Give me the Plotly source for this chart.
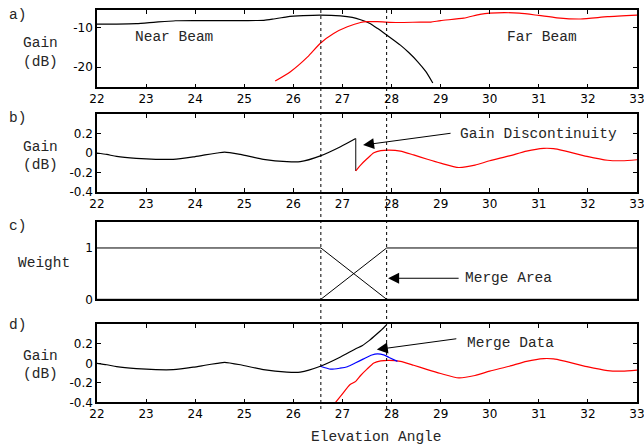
import plotly.graph_objects as go

# ---------------- data ----------------
x_ticks = list(range(22, 34))

merge_start = 26.56
merge_end = 27.9

# panel a: beam gains (dB)
near_a_x = [22.0, 22.4, 22.8, 23.2, 23.6, 24.0, 24.5, 25.0, 25.4, 25.6, 25.87, 26.2, 26.55,
            26.96, 27.2, 27.37, 27.55, 27.71, 27.9, 28.18, 28.35, 28.53, 28.7, 28.84]
near_a_y = [-9.0, -9.0, -8.9, -8.5, -8.15, -8.1, -8.1, -8.1, -8.05, -7.7, -7.15, -6.85, -6.7,
            -6.9, -7.3, -7.9, -8.8, -10.1, -11.8, -14.4, -16.3, -18.6, -21.2, -24.1]
far_a_x = [25.63, 25.94, 26.29, 26.55, 26.82, 27.1, 27.37, 27.5, 27.71, 28.12, 28.59, 28.8,
           29.0, 29.47, 29.8, 30.0, 30.6, 31.0, 31.37, 31.85, 32.4, 33.0]
far_a_y = [-23.6, -21.2, -17.4, -13.9, -11.4, -9.7, -8.6, -8.4, -8.4, -8.6, -8.5, -8.5,
           -8.1, -7.5, -6.5, -6.2, -6.2, -6.8, -7.4, -7.7, -7.1, -6.7]

# panels b/d: residual gain (dB)
near_x = [22.0, 22.2, 22.4, 22.8, 23.2, 23.55, 23.96, 24.2, 24.45, 24.6, 24.92, 25.39,
          25.87, 26.14, 26.55, 26.96, 27.27]
near_y = [0.0, -0.015, -0.035, -0.055, -0.065, -0.065, -0.04, -0.02, 0.0, 0.01, -0.015, -0.065,
          -0.09, -0.09, -0.03, 0.065, 0.15]
near_drop_y = -0.185
near_ext_x = [27.4, 27.55, 27.7, 27.8, 27.9]
near_ext_y = [0.18, 0.235, 0.3, 0.345, 0.395]

far_x = [26.86, 27.02, 27.15, 27.27, 27.37, 27.5, 27.64, 27.78, 27.95, 28.18, 28.45, 28.73,
         29.0, 29.37, 29.7, 30.0, 30.4, 30.75, 31.1, 31.3, 31.5, 31.98, 32.4, 32.7, 33.0]
far_y = [-0.4, -0.3, -0.22, -0.185, -0.125, -0.06, 0.003, 0.025, 0.03, 0.02, -0.02, -0.065,
         -0.105, -0.15, -0.125, -0.08, -0.03, 0.02, 0.048, 0.045, 0.025, -0.035, -0.075, -0.08, -0.07]

merged_x = [26.55, 26.76, 26.95, 27.1, 27.27, 27.43, 27.6, 27.71, 27.84, 27.95, 28.12]
merged_y = [-0.03, -0.06, -0.05, -0.035, 0.005, 0.045, 0.085, 0.097, 0.087, 0.06, 0.02]

# panel c: weights
weight_x = [22, merge_start, merge_end, 33]
near_w = [1, 1, 0, 0]
far_w = [0, 0, 1, 1]

# ---------------- layout helpers ----------------
W, H = 644, 445
def px(x):
    return x / W
def py(y):
    return 1 - y / H

X0, X1 = 97, 637
dom = {  # top, bottom in pixels
    'a': (10, 87.3),
    'b': (114.3, 191.7),
    'c': (222.3, 299.3),
    'd': (324.3, 402.3),
}

mono = 'Liberation Mono, Courier New, monospace'
sans = 'DejaVu Sans, Arial, sans-serif'
txtcol = '#262626'

BLACK = 'black'
RED = '#ff0000'
BLUE = '#0000ff'
LW = 1.2
SPL = dict(shape='spline', smoothing=0.6)

fig = go.Figure()

def line(x, y, color, xa, ya, width=LW, smooth=True):
    ln = dict(color=color, width=width)
    if smooth:
        ln.update(SPL)
    fig.add_trace(go.Scatter(x=x, y=y, mode='lines', line=ln, xaxis=xa, yaxis=ya, hoverinfo='skip'))

# panel a
line(near_a_x, near_a_y, BLACK, 'x', 'y')
line(far_a_x, far_a_y, RED, 'x', 'y')
# panel b
line(near_x, near_y, BLACK, 'x2', 'y2')
line([near_x[-1], near_x[-1]], [near_y[-1], near_drop_y], '#333333', 'x2', 'y2', smooth=False)
fb = [(x, y) for x, y in zip(far_x, far_y) if x >= near_x[-1]]
line([p[0] for p in fb], [p[1] for p in fb], RED, 'x2', 'y2')
# panel c
line(weight_x, near_w, BLACK, 'x3', 'y3', width=1, smooth=False)
line(weight_x, far_w, BLACK, 'x3', 'y3', width=1, smooth=False)
# panel d
line(far_x, far_y, RED, 'x4', 'y4')
line(near_x + near_ext_x, near_y + near_ext_y, BLACK, 'x4', 'y4')
line(merged_x, merged_y, BLUE, 'x4', 'y4')

def xaxis(anchor, labels=True, ticks=True):
    return dict(range=[22, 33], tickvals=x_ticks, ticks='inside' if ticks else '', ticklen=4, tickwidth=1,
                tickcolor='black', showline=True, linewidth=1.5, linecolor='black',
                mirror='ticks' if ticks else True, showgrid=False, zeroline=False,
                showticklabels=labels, tickfont=dict(family=sans, size=12, color='black'),
                ticklabeloverflow='allow',
                domain=[px(X0), px(X1)], anchor=anchor, automargin=False)

def yaxis(anchor, key, rng, vals, texts, ticks=True):
    t, b = dom[key]
    return dict(range=rng, tickvals=vals, ticktext=texts, ticks='inside' if ticks else '', ticklen=4,
                tickwidth=1, tickcolor='black', showline=True, linewidth=1.5, linecolor='black',
                mirror='ticks' if ticks else True, showgrid=False, zeroline=False,
                tickfont=dict(family=sans, size=12, color='black'),
                domain=[py(b), py(t)], anchor=anchor, automargin=False)

g_vals = [-0.4, -0.2, 0, 0.2]
g_text = ['-0.4', '-0.2', '0', '0.2']

fig.update_layout(
    width=W, height=H,
    margin=dict(l=0, r=0, t=0, b=0),
    paper_bgcolor='white', plot_bgcolor='white',
    showlegend=False,
    xaxis=xaxis('y'),
    xaxis2=xaxis('y2'),
    xaxis3=xaxis('y3', labels=False, ticks=False),
    xaxis4=xaxis('y4'),
    yaxis=yaxis('x', 'a', [-25.2, -5.4], [-20, -10], ['-20', '-10']),
    yaxis2=yaxis('x2', 'b', [-0.4, 0.4], g_vals, g_text),
    yaxis3=yaxis('x3', 'c', [0, 1.5], [0, 1], ['0', '1'], ticks=False),
    yaxis4=yaxis('x4', 'd', [-0.4, 0.4], g_vals, g_text),
)

# dotted merge boundaries across all panels
for xv in (merge_start, merge_end):
    fig.add_shape(type='line', xref='x', yref='paper', x0=xv, x1=xv, y0=py(409), y1=py(10),
                  line=dict(color='black', width=1, dash='dot'))

ann = []
def ptext(x, y, s, xanchor='left', size=14.5):
    ann.append(dict(xref='paper', yref='paper', x=px(x), y=py(y), text=s, showarrow=False,
                    xanchor=xanchor, yanchor='middle', font=dict(family=mono, size=size, color=txtcol)))

# panel letters
ptext(7, 15, 'a)')
ptext(7, 118, 'b)')
ptext(7, 226, 'c)')
ptext(7, 325, 'd)')
# y titles
for (yg, yd) in ((43, 62), (147, 164.5), (356, 373.5)):
    ptext(40, yg, 'Gain', 'center')
    ptext(40, yd, '(dB)', 'center')
ptext(44, 263, 'Weight', 'center')
# x title
ptext(376, 437, 'Elevation Angle', 'center')

# in-plot labels
ann.append(dict(xref='x', yref='y', x=23.57, y=-12.2, text='Near Beam', showarrow=False,
                font=dict(family=mono, size=14.5, color=txtcol)))
ann.append(dict(xref='x', yref='y', x=31.07, y=-12.2, text='Far Beam', showarrow=False,
                font=dict(family=mono, size=14.5, color=txtcol)))
ann.append(dict(xref='x2', yref='y2', x=29.35, y=0.195, text='Gain Discontinuity', showarrow=False,
                xanchor='left', font=dict(family=mono, size=14.5, color=txtcol)))
ann.append(dict(xref='x3', yref='y3', x=29.46, y=0.41, text='Merge Area', showarrow=False,
                xanchor='left', font=dict(family=mono, size=14.5, color=txtcol)))
ann.append(dict(xref='x4', yref='y4', x=29.5, y=0.213, text='Merge Data', showarrow=False,
                xanchor='left', font=dict(family=mono, size=14.5, color=txtcol)))

# arrows
for xr, yr, xv, yv, axp, ayp in (('x2', 'y2', 27.42, 0.082, 89, -12),
                                  ('x3', 'y3', 27.93, 0.41, 72, 0),
                                  ('x4', 'y4', 27.70, 0.141, 81, -11)):
    ann.append(dict(xref=xr, yref=yr, x=xv, y=yv, text='', showarrow=True, arrowhead=2,
                    arrowsize=2.2, arrowwidth=1, arrowcolor='black', ax=axp, ay=ayp, standoff=0))

fig.update_layout(annotations=ann)
fig.write_html('out.html', config={'displayModeBar': False},
               post_script="document.body.style.margin='0px';")
